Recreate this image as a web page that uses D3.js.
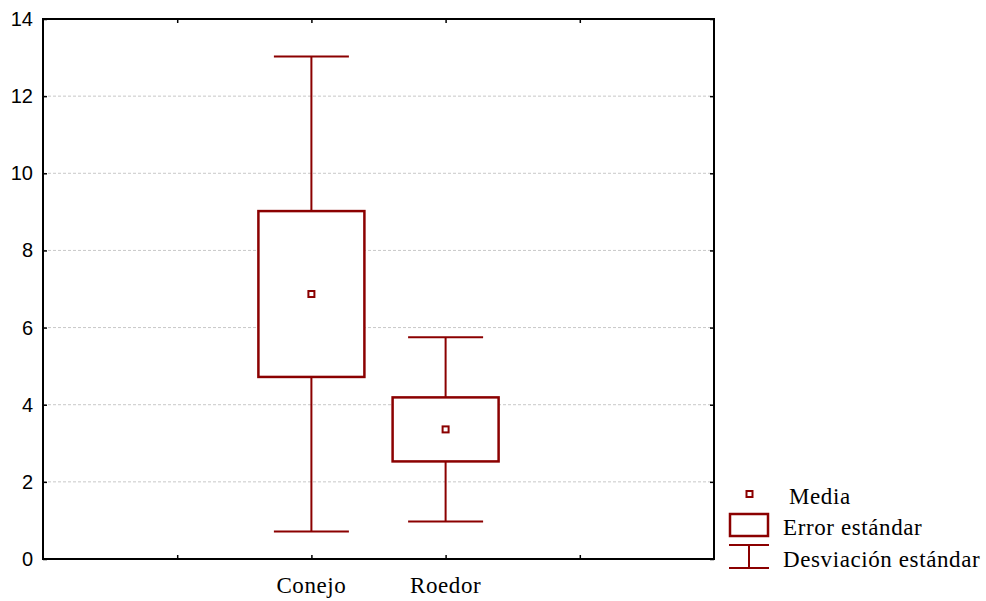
<!DOCTYPE html>
<html>
<head>
<meta charset="utf-8">
<script src="https://cdn.jsdelivr.net/npm/d3@7/dist/d3.min.js"></script>
<style>
  html, body { margin: 0; padding: 0; background: #fff; }
  svg { display: block; }
</style>
</head>
<body>
<svg id="chart" width="986" height="601"></svg>
<script>
// Grupos y estadísticos (media, error estándar, desviación estándar)
const categories = ["Conejo", "Roedor"];
const means = [6.87, 3.36];
const stdErrors = [2.15, 0.83];
const stdDevs = [6.16, 2.39];
const yTicks = [0, 2, 4, 6, 8, 10, 12, 14];
const legendLabels = ["Media", "Error estándar", "Desviación estándar"];

const W = 986, H = 601;
const m = { left: 43, top: 19, right: 714, bottom: 559 };
const col = "#8b0000";
const serif = "Liberation Serif, Times New Roman, serif";

const svg = d3.select("#chart");

// Categorías ocupan las posiciones 2 y 3 de un eje de 0 a 5
const x = d3.scaleLinear().domain([0, 5]).range([m.left, m.right]);
const y = d3.scaleLinear().domain([0, 14]).range([m.bottom, m.top]);
const xPos = i => x(i + 2);

// Líneas de cuadrícula horizontales
svg.append("g")
  .selectAll("line")
  .data(yTicks.filter(t => t > 0 && t < 14))
  .join("line")
  .attr("x1", m.left).attr("x2", m.right)
  .attr("y1", d => y(d)).attr("y2", d => y(d))
  .attr("stroke", "#c8c8c8")
  .attr("stroke-width", 1)
  .attr("stroke-dasharray", "3,2");

// Ejes con marcas hacia dentro
const axisStyle = g => {
  g.select(".domain").remove();
  g.selectAll(".tick line").attr("stroke", "#000").attr("stroke-width", 1.5);
};

svg.append("g")
  .attr("transform", `translate(${m.left},0)`)
  .call(d3.axisRight(y).tickValues(yTicks).tickSize(4).tickFormat(""))
  .call(axisStyle);
svg.append("g")
  .attr("transform", `translate(${m.right},0)`)
  .call(d3.axisLeft(y).tickValues(yTicks).tickSize(4).tickFormat(""))
  .call(axisStyle);
svg.append("g")
  .attr("transform", `translate(0,${m.bottom})`)
  .call(d3.axisTop(x).tickValues([1, 2, 3, 4]).tickSize(4).tickFormat(""))
  .call(axisStyle);
svg.append("g")
  .attr("transform", `translate(0,${m.top})`)
  .call(d3.axisBottom(x).tickValues([1, 2, 3, 4]).tickSize(4).tickFormat(""))
  .call(axisStyle);

// Etiquetas del eje Y
svg.append("g")
  .selectAll("text")
  .data(yTicks)
  .join("text")
  .attr("x", 33)
  .attr("y", d => y(d))
  .attr("dy", "0.35em")
  .attr("text-anchor", "end")
  .attr("font-family", "Liberation Sans, Arial, sans-serif")
  .attr("font-size", 20)
  .attr("fill", "#000")
  .text(d => d);

// Etiquetas de categorías
svg.append("g")
  .selectAll("text")
  .data(categories)
  .join("text")
  .attr("x", (d, i) => xPos(i))
  .attr("y", 593)
  .attr("text-anchor", "middle")
  .attr("font-family", serif)
  .attr("font-size", 23)
  .attr("letter-spacing", 0.6)
  .attr("fill", "#000")
  .text(d => d);

// Marco del gráfico
svg.append("rect")
  .attr("x", m.left).attr("y", m.top)
  .attr("width", m.right - m.left).attr("height", m.bottom - m.top)
  .attr("fill", "none")
  .attr("stroke", "#000")
  .attr("stroke-width", 2);

// Cajas: media ± error estándar, bigotes: media ± desviación estándar
const boxW = 106, capW = 75, mk = 6;
const groups = svg.append("g")
  .selectAll("g")
  .data(categories.map((c, i) => ({ c, i, mean: means[i], se: stdErrors[i], sd: stdDevs[i] })))
  .join("g");

groups.append("line")
  .attr("x1", d => xPos(d.i)).attr("x2", d => xPos(d.i))
  .attr("y1", d => y(d.mean + d.sd)).attr("y2", d => y(d.mean - d.sd))
  .attr("stroke", col).attr("stroke-width", 2);
groups.selectAll("line.cap")
  .data(d => [d.mean + d.sd, d.mean - d.sd].map(v => ({ v, i: d.i })))
  .join("line")
  .attr("class", "cap")
  .attr("x1", d => xPos(d.i) - capW / 2).attr("x2", d => xPos(d.i) + capW / 2)
  .attr("y1", d => y(d.v)).attr("y2", d => y(d.v))
  .attr("stroke", col).attr("stroke-width", 2);
groups.append("rect")
  .attr("x", d => xPos(d.i) - boxW / 2)
  .attr("y", d => y(d.mean + d.se))
  .attr("width", boxW)
  .attr("height", d => y(d.mean - d.se) - y(d.mean + d.se))
  .attr("fill", "#fff")
  .attr("stroke", col).attr("stroke-width", 2.5);
groups.append("rect")
  .attr("x", d => xPos(d.i) - mk / 2)
  .attr("y", d => y(d.mean) - mk / 2)
  .attr("width", mk).attr("height", mk)
  .attr("fill", "#fff")
  .attr("stroke", col).attr("stroke-width", 2);

// Leyenda
const lg = svg.append("g");
lg.append("rect")
  .attr("x", 749.5 - mk / 2).attr("y", 494 - mk / 2)
  .attr("width", mk).attr("height", mk)
  .attr("fill", "#fff").attr("stroke", col).attr("stroke-width", 2);
lg.append("rect")
  .attr("x", 730).attr("y", 514).attr("width", 38).attr("height", 22)
  .attr("fill", "#fff").attr("stroke", col).attr("stroke-width", 2.5);
lg.append("line").attr("x1", 729).attr("x2", 769).attr("y1", 545).attr("y2", 545)
  .attr("stroke", col).attr("stroke-width", 2);
lg.append("line").attr("x1", 729).attr("x2", 769).attr("y1", 568).attr("y2", 568)
  .attr("stroke", col).attr("stroke-width", 2);
lg.append("line").attr("x1", 749).attr("x2", 749).attr("y1", 545).attr("y2", 568)
  .attr("stroke", col).attr("stroke-width", 2);

const legendPos = [[789, 504], [783, 535], [783, 567]];
lg.selectAll("text")
  .data(legendLabels)
  .join("text")
  .attr("x", (d, i) => legendPos[i][0])
  .attr("y", (d, i) => legendPos[i][1])
  .attr("font-family", serif)
  .attr("font-size", 23)
  .attr("letter-spacing", 0.6)
  .attr("fill", "#000")
  .text(d => d);
</script>
</body>
</html>
